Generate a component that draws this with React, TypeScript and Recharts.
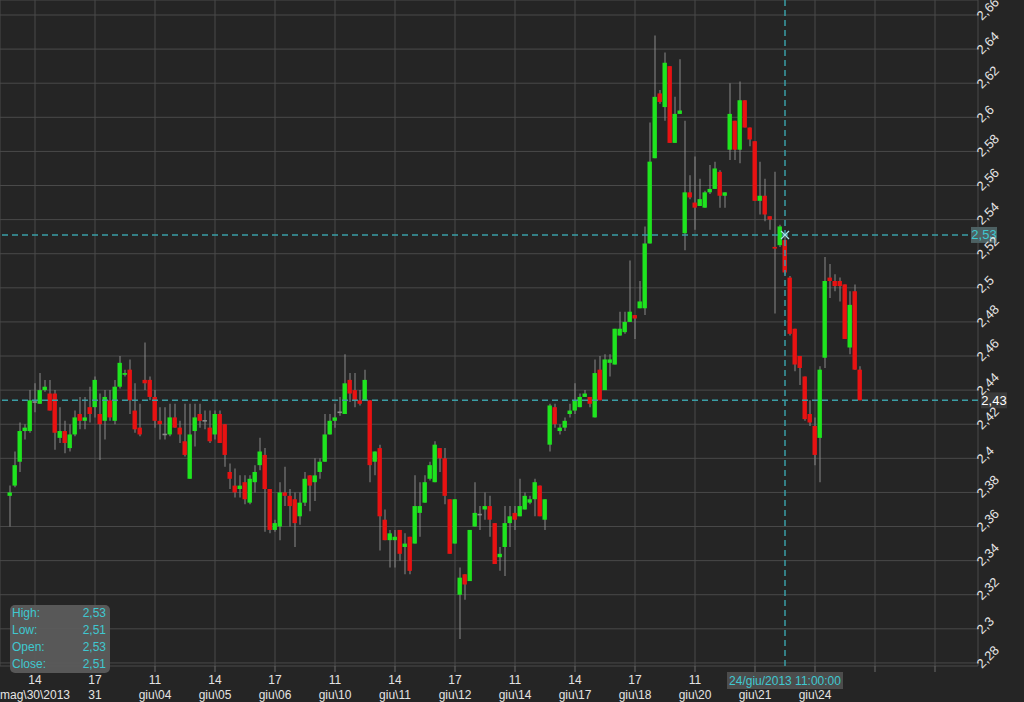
import React from 'react';
import { ComposedChart, Bar, XAxis, YAxis, CartesianGrid, ReferenceLine, ReferenceDot } from 'recharts';

const opens = [
  2.378, 2.384, 2.398, 2.416, 2.416, 2.433, 2.432, 2.440, 2.438, 2.438,
  2.412, 2.416, 2.406, 2.414, 2.426, 2.422, 2.430, 2.430, 2.426, 2.422,
  2.434, 2.422, 2.442, 2.449, 2.452, 2.428, 2.418, 2.446, 2.446, 2.436,
  2.422, 2.414, 2.414, 2.424, 2.418, 2.410, 2.388, 2.416, 2.426, 2.422,
  2.418, 2.414, 2.426, 2.420, 2.392, 2.384, 2.382, 2.386, 2.374, 2.386,
  2.396, 2.402, 2.382, 2.358, 2.360, 2.380, 2.378, 2.376, 2.366, 2.374,
  2.390, 2.386, 2.392, 2.398, 2.414, 2.422, 2.427, 2.426, 2.446, 2.440,
  2.434, 2.434, 2.434, 2.398, 2.406, 2.364, 2.352, 2.352, 2.358, 2.348,
  2.354, 2.350, 2.368, 2.374, 2.388, 2.386, 2.406, 2.400, 2.376, 2.350,
  2.320, 2.332, 2.328, 2.360, 2.367, 2.370, 2.372, 2.362, 2.342, 2.348,
  2.362, 2.368, 2.366, 2.370, 2.374, 2.376, 2.384, 2.364, 2.408, 2.430,
  2.416, 2.418, 2.426, 2.428, 2.430, 2.436, 2.436, 2.424, 2.452, 2.440,
  2.456, 2.455, 2.472, 2.474, 2.480, 2.484, 2.488, 2.488, 2.526, 2.576,
  2.614, 2.606, 2.630, 2.585, 2.602, 2.532, 2.556, 2.550, 2.548, 2.547,
  2.556, 2.558, 2.568, 2.554, 2.581, 2.598, 2.581, 2.610, 2.594, 2.586,
  2.551, 2.554, 2.542, 2.524, 2.525, 2.528, 2.506, 2.476, 2.460, 2.448,
  2.426, 2.419, 2.412, 2.459, 2.506, 2.504, 2.504, 2.502, 2.465, 2.498,
  2.452,
];

const highs = [
  2.384, 2.404, 2.421, 2.420, 2.440, 2.444, 2.450, 2.446, 2.446, 2.440,
  2.430, 2.422, 2.420, 2.428, 2.436, 2.436, 2.442, 2.448, 2.438, 2.440,
  2.440, 2.446, 2.460, 2.452, 2.458, 2.444, 2.432, 2.468, 2.448, 2.440,
  2.430, 2.430, 2.432, 2.432, 2.422, 2.432, 2.432, 2.432, 2.432, 2.428,
  2.428, 2.428, 2.428, 2.420, 2.397, 2.394, 2.390, 2.390, 2.390, 2.396,
  2.412, 2.406, 2.382, 2.364, 2.386, 2.395, 2.382, 2.380, 2.380, 2.392,
  2.390, 2.400, 2.400, 2.426, 2.426, 2.432, 2.436, 2.461, 2.450, 2.450,
  2.440, 2.452, 2.434, 2.404, 2.408, 2.370, 2.358, 2.358, 2.358, 2.356,
  2.354, 2.390, 2.386, 2.390, 2.398, 2.410, 2.406, 2.406, 2.376, 2.376,
  2.336, 2.332, 2.358, 2.386, 2.372, 2.380, 2.378, 2.362, 2.348, 2.372,
  2.372, 2.372, 2.388, 2.380, 2.378, 2.388, 2.384, 2.376, 2.432, 2.432,
  2.420, 2.424, 2.432, 2.444, 2.438, 2.440, 2.436, 2.458, 2.460, 2.461,
  2.461, 2.476, 2.486, 2.486, 2.516, 2.484, 2.504, 2.536, 2.597, 2.648,
  2.616, 2.638, 2.630, 2.612, 2.634, 2.598, 2.566, 2.577, 2.564, 2.557,
  2.572, 2.574, 2.569, 2.556, 2.620, 2.598, 2.621, 2.610, 2.594, 2.586,
  2.574, 2.564, 2.542, 2.568, 2.537, 2.530, 2.507, 2.476, 2.460, 2.448,
  2.434, 2.424, 2.454, 2.518, 2.514, 2.508, 2.506, 2.502, 2.498, 2.502,
  2.454,
];

const lows = [
  2.360, 2.383, 2.392, 2.411, 2.415, 2.427, 2.432, 2.439, 2.428, 2.405,
  2.409, 2.403, 2.404, 2.413, 2.417, 2.417, 2.421, 2.424, 2.399, 2.411,
  2.422, 2.420, 2.441, 2.448, 2.426, 2.415, 2.413, 2.440, 2.434, 2.418,
  2.411, 2.411, 2.413, 2.418, 2.409, 2.401, 2.388, 2.407, 2.418, 2.417,
  2.409, 2.411, 2.409, 2.395, 2.382, 2.377, 2.377, 2.373, 2.373, 2.380,
  2.393, 2.357, 2.356, 2.357, 2.352, 2.372, 2.360, 2.348, 2.361, 2.372,
  2.369, 2.375, 2.388, 2.398, 2.414, 2.418, 2.425, 2.426, 2.433, 2.430,
  2.431, 2.434, 2.386, 2.390, 2.346, 2.352, 2.336, 2.336, 2.340, 2.332,
  2.332, 2.350, 2.354, 2.374, 2.387, 2.386, 2.392, 2.373, 2.344, 2.350,
  2.294, 2.317, 2.328, 2.360, 2.358, 2.364, 2.354, 2.338, 2.334, 2.331,
  2.348, 2.358, 2.366, 2.370, 2.373, 2.366, 2.366, 2.358, 2.404, 2.418,
  2.414, 2.416, 2.424, 2.426, 2.430, 2.436, 2.430, 2.424, 2.434, 2.440,
  2.448, 2.455, 2.472, 2.473, 2.480, 2.470, 2.488, 2.484, 2.526, 2.576,
  2.608, 2.598, 2.585, 2.585, 2.602, 2.522, 2.552, 2.534, 2.548, 2.547,
  2.555, 2.558, 2.547, 2.547, 2.575, 2.575, 2.573, 2.594, 2.583, 2.551,
  2.543, 2.539, 2.534, 2.485, 2.524, 2.508, 2.472, 2.451, 2.443, 2.422,
  2.419, 2.396, 2.386, 2.453, 2.494, 2.498, 2.492, 2.470, 2.461, 2.452,
  2.434,
];

const closes = [
  2.380, 2.396, 2.416, 2.418, 2.434, 2.433, 2.440, 2.442, 2.428, 2.415,
  2.416, 2.409, 2.414, 2.424, 2.422, 2.424, 2.426, 2.446, 2.420, 2.436,
  2.424, 2.442, 2.456, 2.450, 2.434, 2.417, 2.414, 2.444, 2.436, 2.422,
  2.420, 2.414, 2.424, 2.418, 2.414, 2.402, 2.414, 2.424, 2.422, 2.422,
  2.410, 2.426, 2.409, 2.402, 2.388, 2.380, 2.384, 2.376, 2.388, 2.392,
  2.404, 2.382, 2.358, 2.362, 2.380, 2.378, 2.372, 2.362, 2.374, 2.388,
  2.384, 2.390, 2.398, 2.414, 2.422, 2.424, 2.427, 2.444, 2.438, 2.434,
  2.432, 2.446, 2.396, 2.404, 2.366, 2.352, 2.356, 2.354, 2.344, 2.350,
  2.334, 2.372, 2.372, 2.386, 2.396, 2.408, 2.400, 2.378, 2.344, 2.376,
  2.330, 2.326, 2.358, 2.368, 2.367, 2.372, 2.364, 2.338, 2.344, 2.362,
  2.366, 2.364, 2.372, 2.378, 2.376, 2.386, 2.366, 2.376, 2.431, 2.420,
  2.418, 2.422, 2.428, 2.434, 2.436, 2.438, 2.432, 2.450, 2.434, 2.458,
  2.458, 2.476, 2.476, 2.480, 2.486, 2.482, 2.492, 2.526, 2.574, 2.612,
  2.609, 2.632, 2.585, 2.602, 2.604, 2.556, 2.553, 2.547, 2.552, 2.556,
  2.558, 2.570, 2.554, 2.556, 2.602, 2.581, 2.610, 2.594, 2.587, 2.551,
  2.554, 2.543, 2.540, 2.523, 2.536, 2.509, 2.473, 2.455, 2.453, 2.423,
  2.421, 2.402, 2.452, 2.504, 2.504, 2.501, 2.501, 2.470, 2.490, 2.452,
  2.434,
];

const xTickIndex = [5, 17, 29, 41, 53, 65, 77, 89, 101, 113, 125, 137, 149, 161, 173, 185];
const xTickHour = ['14', '17', '11', '14', '17', '11', '14', '17', '11', '14', '17', '11', '', '', '', ''];
const xTickDay = ['mag\\30\\2013', '31', 'giu\\04', 'giu\\05', 'giu\\06', 'giu\\10', 'giu\\11', 'giu\\12', 'giu\\14', 'giu\\17', 'giu\\18', 'giu\\20', 'giu\\21', 'giu\\24', '', ''];
const yTicks = [2.28, 2.3, 2.32, 2.34, 2.36, 2.38, 2.4, 2.42, 2.44, 2.46, 2.48, 2.5, 2.52, 2.54, 2.56, 2.58, 2.6, 2.62, 2.64, 2.66];

const cursorIndex = 155;
const cursorPrice = 2.531;
const cursorTime = '24/giu/2013 11:00:00';
const lastPrice = closes[closes.length - 1];

const C = {
  bg: '#252525',
  grid: '#4a4a4a',
  up: '#1fe41f',
  down: '#e81212',
  wick: '#8a8a8a',
  cross: '#3a9ea6',
  crossText: '#3fc8d0',
  text: '#e4e4e4',
};

const data = opens.map((o, i) => ({
  i,
  o,
  h: highs[i],
  l: lows[i],
  c: closes[i],
  wick: [lows[i], highs[i]],
  body: [Math.min(o, closes[i]), Math.max(o, closes[i])],
}));

const fmt = (v: number) => String(+v.toFixed(2)).replace('.', ',');
const fmt2 = (v: number) => v.toFixed(2).replace('.', ',');

const BodyShape = (props: any) => {
  const { x, y, width, height, payload } = props;
  if (x == null || y == null) return null;
  let h = Math.abs(height || 0);
  let top = height < 0 ? y + height : y;
  const min = 1.6;
  if (h < min) {
    top -= (min - h) / 2;
    h = min;
  }
  const fill = payload.c > payload.o ? C.up : payload.c < payload.o ? C.down : C.wick;
  return <rect x={x} y={top} width={width} height={h} fill={fill} />;
};

const YTick = (props: any) => {
  const { x, y, payload } = props;
  return (
    <text x={0} y={0} transform={`translate(${x + 4},${y + 6}) rotate(-45)`} fill={C.text} fontSize={13}>
      {fmt(payload.value)}
    </text>
  );
};

const XTick = (props: any) => {
  const { x, y, payload } = props;
  const k = xTickIndex.indexOf(payload.value);
  return (
    <g>
      {xTickHour[k] ? (
        <text x={x} y={y + 12} textAnchor="middle" fill={C.text} fontSize={12}>{xTickHour[k]}</text>
      ) : null}
      {xTickDay[k] ? (
        <text x={x} y={y + 26.5} textAnchor="middle" fill={C.text} fontSize={12}>{xTickDay[k]}</text>
      ) : null}
    </g>
  );
};

const PriceLabel = (text: string, bg: string, color: string, dx: number) => (props: any) => {
  const vb = props.viewBox || {};
  const right = vb.x + vb.width;
  const cy = vb.y;
  return (
    <g>
      <rect x={right + dx - 13} y={cy - 8} width={26} height={16} fill={bg} />
      <text x={right + dx} y={cy + 4.5} textAnchor="middle" fill={color} fontSize={13}>{text}</text>
    </g>
  );
};

const TimeLabel = (props: any) => {
  const vb = props.viewBox || {};
  const cx = vb.x;
  const bottom = vb.y + vb.height;
  return (
    <g>
      <rect x={cx - 58} y={bottom + 6} width={116} height={17} fill="#4c4c4c" />
      <text x={cx} y={bottom + 19} textAnchor="middle" fill={C.crossText} fontSize={12}>{cursorTime}</text>
    </g>
  );
};

const CrossMark = (props: any) => {
  const { cx, cy } = props;
  if (cx == null || cy == null) return null;
  return (
    <g stroke="#a6e4ea" strokeWidth={1.2}>
      <line x1={cx - 4} y1={cy - 4} x2={cx + 4} y2={cy + 4} />
      <line x1={cx - 4} y1={cy + 4} x2={cx + 4} y2={cy - 4} />
    </g>
  );
};

const cur = data[cursorIndex];
const infoRows = [
  ['High:', fmt2(cur.h)],
  ['Low:', fmt2(cur.l)],
  ['Open:', fmt2(cur.o)],
  ['Close:', fmt2(cur.c)],
];

export default function App() {
  return (
    <div
      style={{
        position: 'absolute',
        left: 0,
        top: 0,
        width: 1024,
        height: 702,
        background: C.bg,
        fontFamily: '"Liberation Sans", Arial, sans-serif',
        overflow: 'hidden',
      }}
    >
      <ComposedChart width={1024} height={702} data={data} margin={{ top: 0, right: 0, bottom: 0, left: 0 }}>
        <CartesianGrid xAxisId="w" stroke={C.grid} strokeWidth={1} />
        <XAxis
          xAxisId="w"
          dataKey="i"
          type="number"
          domain={[-2, 193.6]}
          ticks={xTickIndex}
          interval={0}
          height={36}
          axisLine={false}
          tickLine={{ stroke: '#6a6a6a' }}
          tickSize={6}
          tickMargin={0}
          tick={XTick}
          allowDataOverflow
        />
        <XAxis xAxisId="b" dataKey="i" type="number" domain={[-2, 193.6]} height={0} hide allowDataOverflow />
        <YAxis
          orientation="right"
          width={46}
          domain={[2.2782, 2.6688]}
          ticks={yTicks}
          interval={0}
          axisLine={false}
          tickLine={false}
          tickSize={0}
          tickMargin={0}
          tick={YTick}
          allowDataOverflow
        />
        <Bar xAxisId="w" dataKey="wick" barSize={1} fill={C.wick} isAnimationActive={false} />
        <Bar xAxisId="b" dataKey="body" barSize={4.4} shape={BodyShape} isAnimationActive={false} />
        <ReferenceLine
          xAxisId="w"
          y={lastPrice}
          stroke={C.cross}
          strokeWidth={1.5}
          strokeDasharray="6 4"
          label={PriceLabel(fmt2(lastPrice), '#3a3a3a', '#ffffff', 16)}
        />
        <ReferenceLine
          xAxisId="w"
          y={cursorPrice}
          stroke={C.cross}
          strokeWidth={1.5}
          strokeDasharray="6 4"
          label={PriceLabel(fmt2(cursorPrice), '#4d6163', C.crossText, 6)}
        />
        <ReferenceLine
          xAxisId="w"
          x={cursorIndex}
          stroke={C.cross}
          strokeWidth={1.5}
          strokeDasharray="6 4"
          label={TimeLabel}
        />
        <ReferenceDot xAxisId="w" x={cursorIndex} y={cursorPrice} r={4} shape={CrossMark} />
      </ComposedChart>
      <div
        style={{
          position: 'absolute',
          left: 10,
          top: 605,
          width: 100,
          height: 68,
          background: 'rgba(92,92,92,0.92)',
          borderRadius: 5,
          color: C.crossText,
          fontSize: 12,
        }}
      >
        {infoRows.map((r, k) => (
          <div key={k} style={{ display: 'flex', justifyContent: 'space-between', height: 17, lineHeight: '17px', padding: '0 4px 0 2px' }}>
            <span>{r[0]}</span>
            <span>{r[1]}</span>
          </div>
        ))}
      </div>
    </div>
  );
}
